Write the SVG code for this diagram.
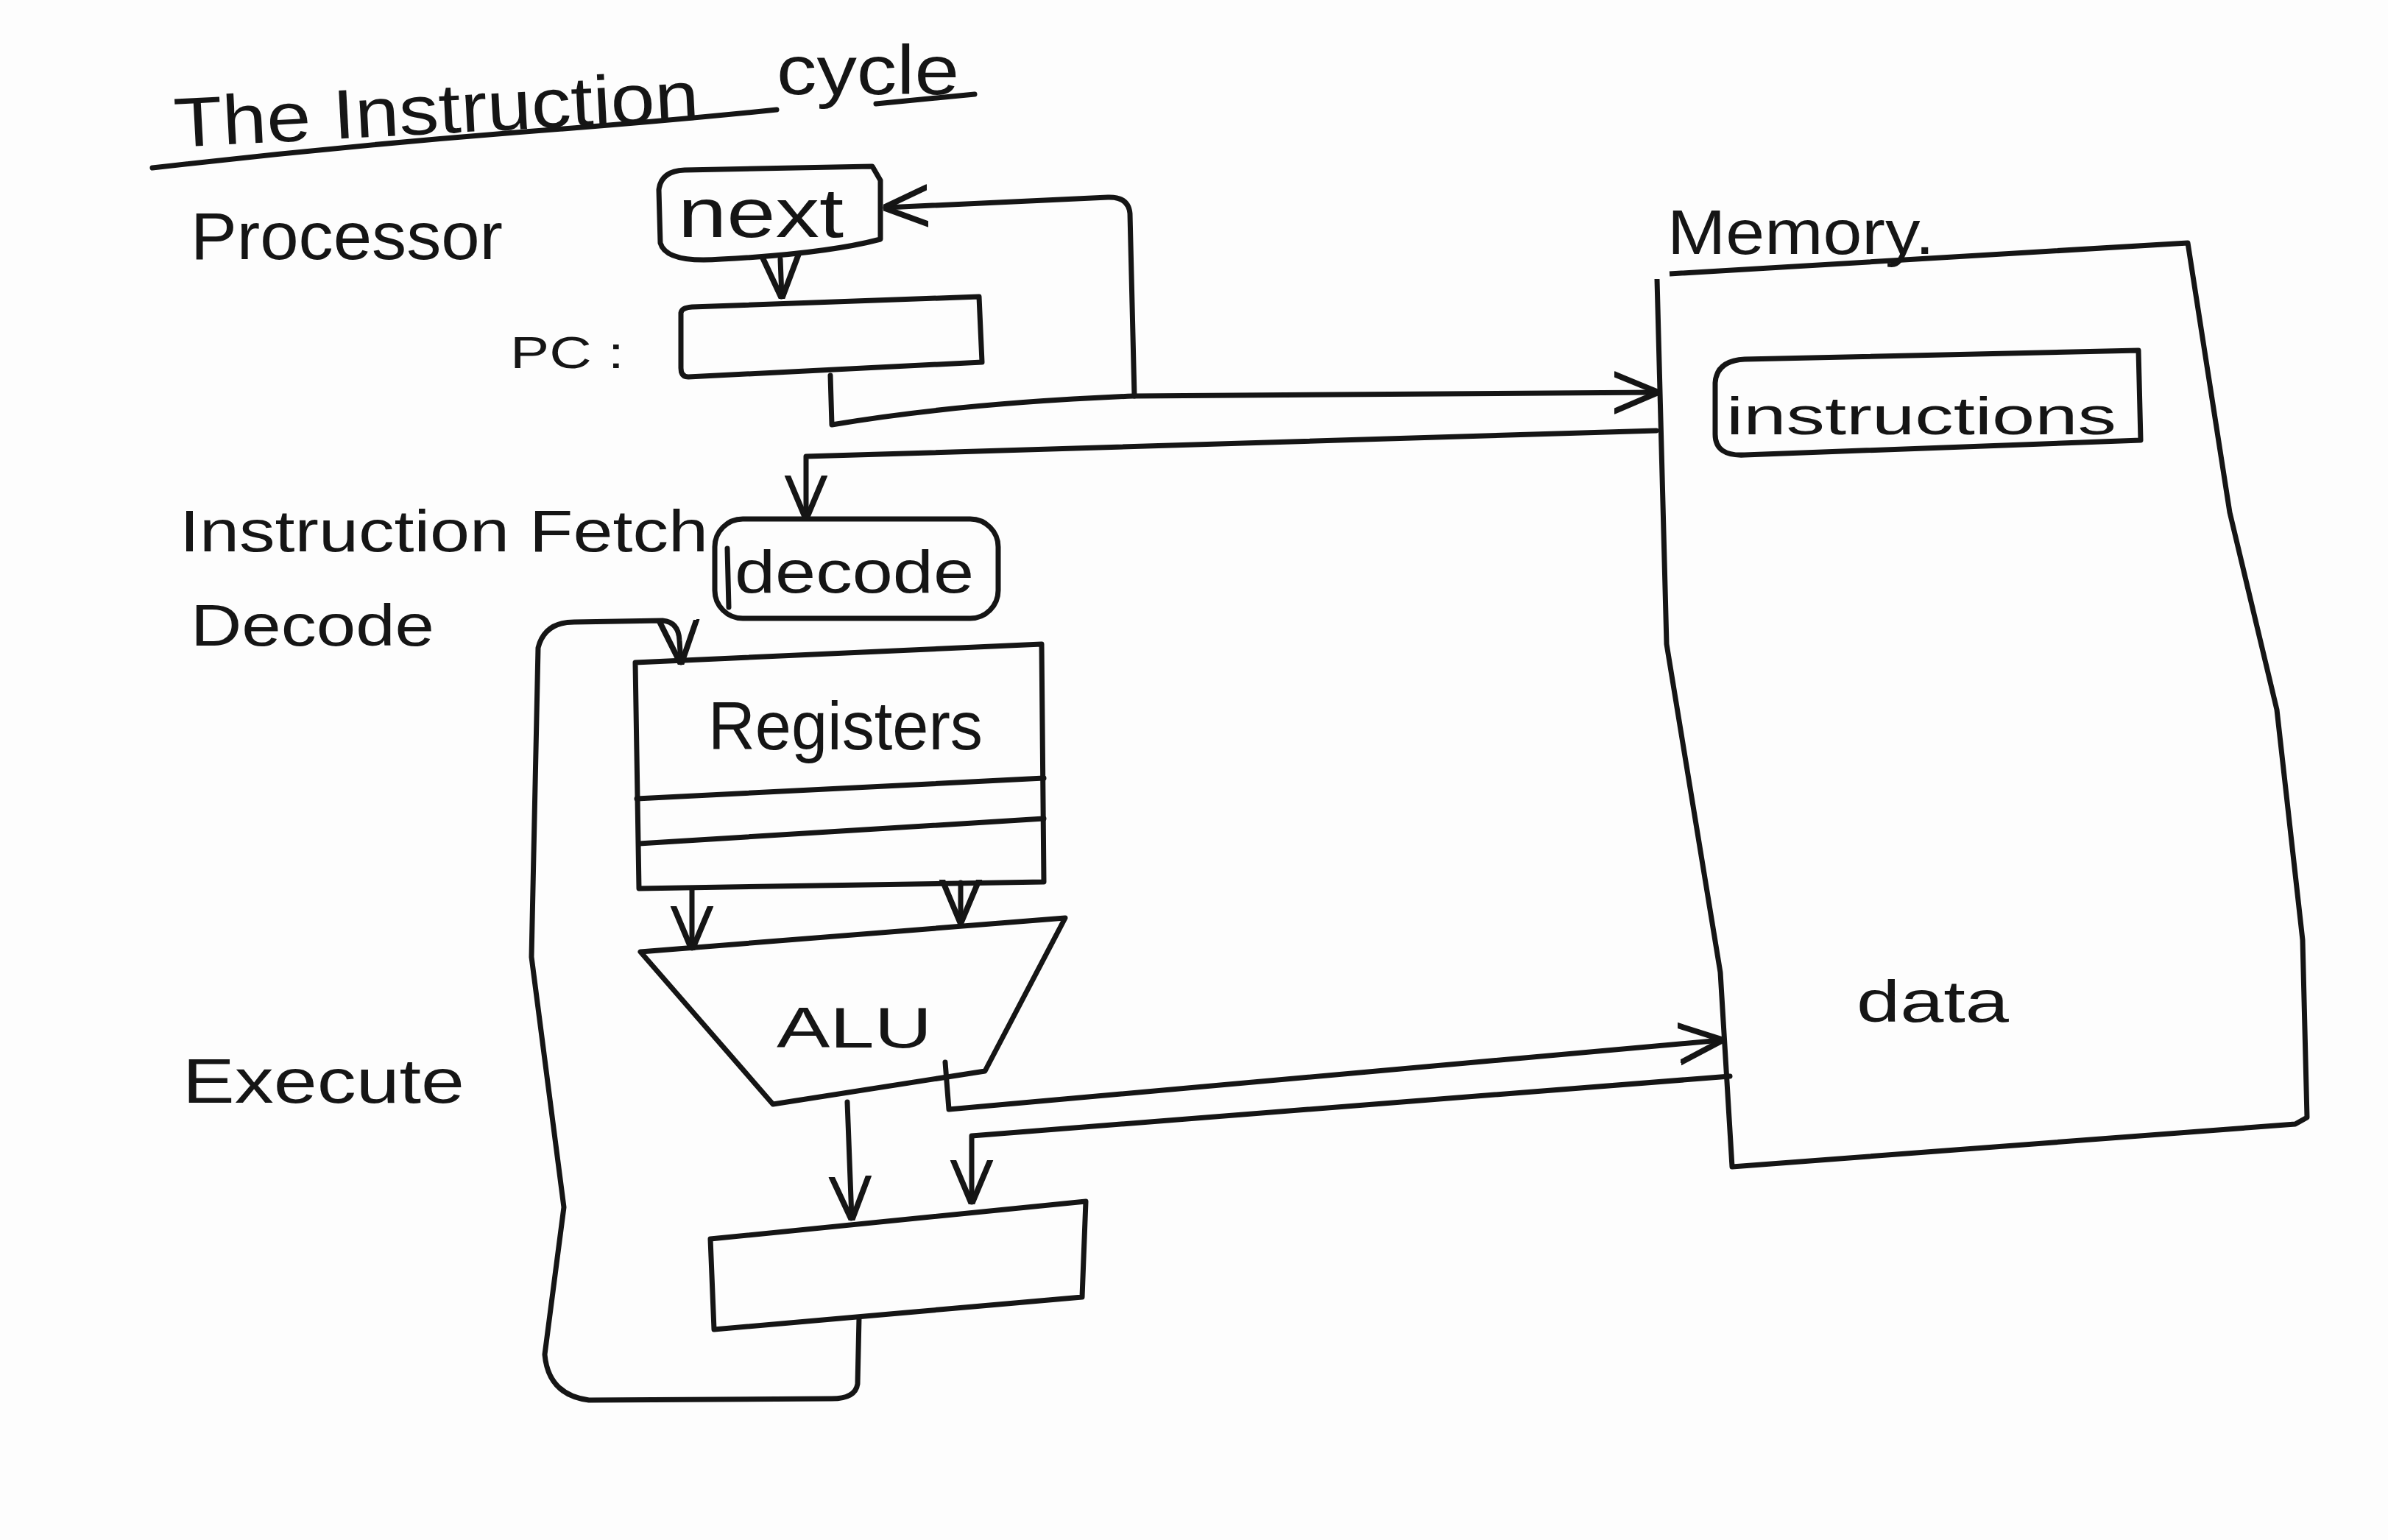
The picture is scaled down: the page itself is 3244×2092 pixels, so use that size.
<svg xmlns="http://www.w3.org/2000/svg" width="3244" height="2092" viewBox="0 0 3244 2092">
  <defs>
    <style>
      .ln { fill: none; stroke: #151515; stroke-width: 7; stroke-linecap: round; stroke-linejoin: round; }
      .bx { fill: none; stroke: #151515; stroke-width: 7; stroke-linejoin: round; }
      .tx { font-family: "Liberation Sans", Arial, sans-serif; fill: #151515; }
    </style>
    <marker id="arr" markerUnits="userSpaceOnUse" markerWidth="60" markerHeight="60" viewBox="0 0 10 10" refX="9.5" refY="5" orient="auto">
      <path d="M0,0.8 L10,5 L0,9.2" fill="none" stroke="#151515" stroke-width="1.3" stroke-linecap="round" stroke-linejoin="round"/>
    </marker>
  </defs>
  <rect x="0" y="0" width="3244" height="2092" fill="#fdfdfd"/>

  <g id="title">
    <text class="tx" x="238" y="200" font-size="95" textLength="714" lengthAdjust="spacingAndGlyphs" transform="rotate(-3 238 200)">The Instruction</text>
    <text class="tx" x="1055" y="128" font-size="95" textLength="248" lengthAdjust="spacingAndGlyphs">cycle</text>
    <path class="ln" d="M207,228 Q450,200 700,180 Q900,165 1055,149"/>
    <path class="ln" d="M1190,141 L1324,128"/>
  </g>

  <g id="labels">
    <text class="tx" x="259" y="352" font-size="90" textLength="424" lengthAdjust="spacingAndGlyphs">Processor</text>
    <text class="tx" x="693" y="500" font-size="62" textLength="155" lengthAdjust="spacingAndGlyphs">PC :</text>
    <text class="tx" x="244" y="749" font-size="80" textLength="718" lengthAdjust="spacingAndGlyphs">Instruction Fetch</text>
    <text class="tx" x="259" y="877" font-size="80" textLength="331" lengthAdjust="spacingAndGlyphs">Decode</text>
    <text class="tx" x="248" y="1498" font-size="85" textLength="383" lengthAdjust="spacingAndGlyphs">Execute</text>
  </g>

  <g id="next">
    <path class="bx" d="M895,258 Q898,232 930,231 L1185,226 L1196,245 L1196,325 Q1120,345 980,352 Q905,358 897,330 Z"/>
    <text class="tx" x="921" y="322" font-size="95" textLength="225" lengthAdjust="spacingAndGlyphs">next</text>
  </g>

  <g id="pc">
    <path class="bx" d="M925,425 Q926,418 940,417 L1330,403 L1334,492 L935,512 Q925,512 925,500 Z"/>
  </g>

  <g id="memory">
    <path class="bx" d="M2268,372 L2972,330 L3029,696 L3093,964 L3128,1277 L3134,1518 L3118,1527 L2353,1585 L2337,1321 L2264,875 L2251,379"/>
    <text class="tx" x="2265" y="345" font-size="85" textLength="363" lengthAdjust="spacingAndGlyphs">Memory.</text>
    <text class="tx" x="2522" y="1388" font-size="80" textLength="207" lengthAdjust="spacingAndGlyphs">data</text>
  </g>

  <g id="instructions">
    <path class="bx" d="M2330,520 Q2332,490 2370,488 L2905,476 L2908,598 L2370,618 Q2330,620 2330,590 Z"/>
    <text class="tx" x="2345" y="590" font-size="72" textLength="530" lengthAdjust="spacingAndGlyphs">instructions</text>
  </g>

  <g id="decode">
    <rect class="bx" x="971" y="705" width="385" height="135" rx="38"/>
    <path class="ln" d="M988,745 L990,825"/>
    <text class="tx" x="998" y="805" font-size="82" textLength="325" lengthAdjust="spacingAndGlyphs">decode</text>
  </g>

  <g id="registers">
    <path class="bx" d="M863,900 L1415,875 L1418,1198 L868,1207 Z"/>
    <path class="ln" d="M865,1085 L1418,1057"/>
    <path class="ln" d="M868,1146 L1418,1112"/>
    <text class="tx" x="962" y="1018" font-size="92" textLength="373" lengthAdjust="spacingAndGlyphs">Registers</text>
  </g>

  <g id="alu">
    <path class="bx" d="M870,1293 L1447,1247 L1338,1455 L1050,1500 Z"/>
    <text class="tx" x="1055" y="1423" font-size="78" textLength="211" lengthAdjust="spacingAndGlyphs">ALU</text>
  </g>

  <g id="result">
    <path class="bx" d="M965,1683 L1475,1632 L1470,1762 L970,1806 Z"/>
  </g>

  <g id="connectors">
    <path class="ln" d="M1060,352 L1062,403" marker-end="url(#arr)"/>
    <path class="ln" d="M1128,510 L1130,577 Q1300,548 1540,538 L2250,533" marker-end="url(#arr)"/>
    <path class="ln" d="M1541,538 L1535,290 Q1533,267 1505,268 L1203,282" marker-end="url(#arr)"/>
    <path class="ln" d="M2250,585 L1095,620 L1095,703" marker-end="url(#arr)"/>
    <path class="ln" d="M940,1207 L940,1288" marker-end="url(#arr)"/>
    <path class="ln" d="M1305,1199 L1305,1252" marker-end="url(#arr)"/>
    <path class="ln" d="M1151,1497 L1157,1655" marker-end="url(#arr)"/>
    <path class="ln" d="M1284,1443 L1289,1507 L2338,1413" marker-end="url(#arr)"/>
    <path class="ln" d="M2350,1462 L1320,1543 L1320,1633" marker-end="url(#arr)"/>
    <path class="ln" d="M1167,1790 L1165,1880 Q1162,1900 1130,1900 L800,1902 Q745,1895 740,1840 L766,1640 L722,1300 L731,880 Q740,845 780,845 L900,843 Q922,845 923,870 L925,900" marker-end="url(#arr)"/>
  </g>
</svg>
